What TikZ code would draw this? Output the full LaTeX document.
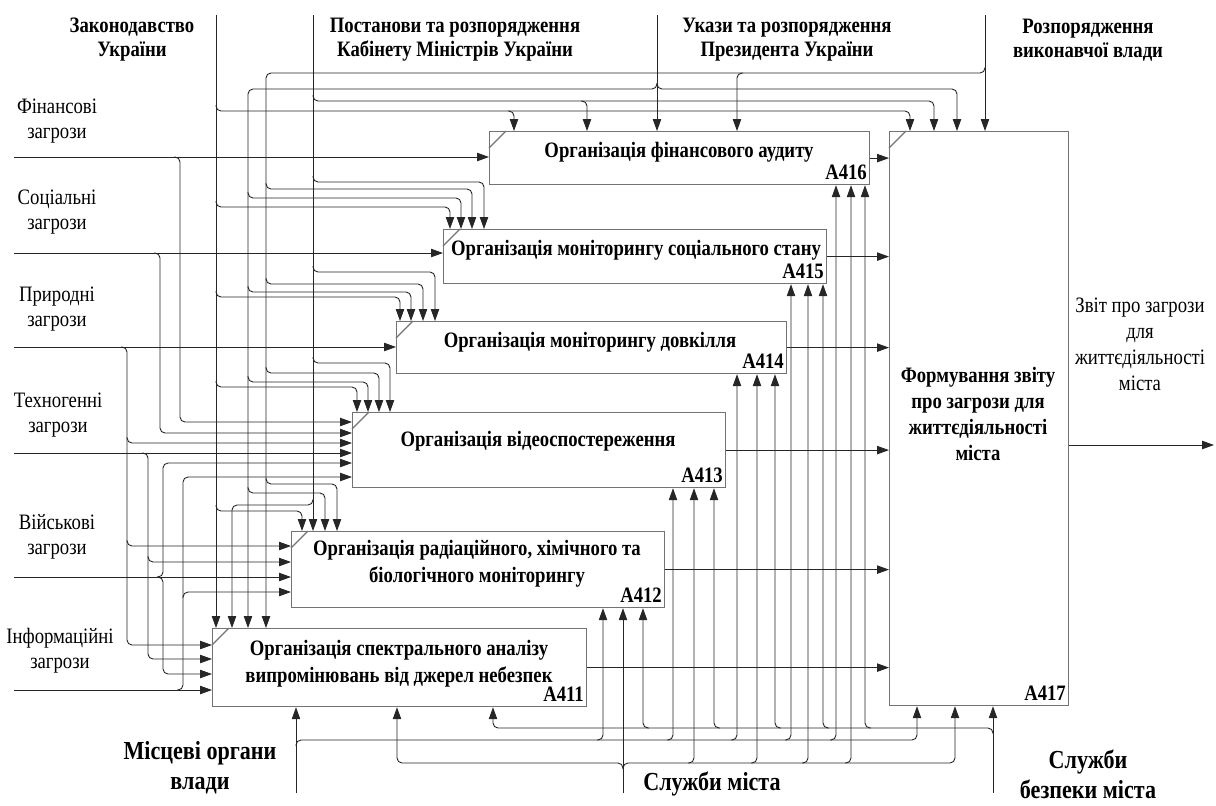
\documentclass[tikz,border=0pt]{standalone}
\usepackage{fontspec}
\setmainfont{Liberation Serif}[FakeStretch=0.85]
\usetikzlibrary{arrows.meta, calc}

\begin{document}
\begin{tikzpicture}[
        x=0.5pt, y=-0.5pt,
        procbox/.style={rectangle, draw=black!55, line width=0.6pt, anchor=north west, inner sep=0pt},
        proctext/.style={font=\fontsize{11}{13.5}\selectfont\bfseries, align=center},
        numlabel/.style={anchor=south east, inner xsep=1.5pt, inner ysep=2.5pt, font=\fontsize{11}{13}\selectfont\bfseries},
        ctrltext/.style={font=\fontsize{11}{12}\selectfont\bfseries, align=center},
        inptext/.style={font=\fontsize{11}{12.5}\selectfont, align=center},
        mechtext/.style={font=\fontsize{13}{15}\selectfont\bfseries, align=center},
        arr/.style={-{Triangle[length=6pt, width=4.2pt]}, line width=0.45pt, black!85, rounded corners=2.5pt},
        cornertick/.style={draw=black!55, line width=0.6pt},
    ]
        \useasboundingbox (0,0) rectangle (1216,805);

        % Function boxes A411..A417
        \node[procbox, minimum width=190pt, minimum height=26.5pt] (a416) at (489,131) {};
        \node[procbox, minimum width=191.5pt, minimum height=27pt] (a415) at (443,229) {};
        \node[procbox, minimum width=195pt, minimum height=26pt] (a414) at (396,321) {};
        \node[procbox, minimum width=186.5pt, minimum height=37.5pt] (a413) at (352,412) {};
        \node[procbox, minimum width=186.5pt, minimum height=38pt] (a412) at (291,531) {};
        \node[procbox, minimum width=187pt, minimum height=39pt] (a411) at (212,628) {};
        \node[procbox, minimum width=89.5pt, minimum height=287pt] (a417) at (889,131) {};

        \node[proctext] (t416) at (679,152) {Організація фінансового аудиту};
        \node[proctext] (t415) at (636,250) {Організація моніторингу соціального стану};
        \node[proctext] (t414) at (590,342) {Організація моніторингу довкілля};
        \node[proctext] (t413) at (538,441) {Організація відеоспостереження};
        \node[proctext] (t412) at (477,564) {Організація радіаційного, хімічного та\\біологічного моніторингу};
        \node[proctext] (t411) at (399,664) {Організація спектрального аналізу\\випромінювань від джерел небезпек};
        \node[proctext, font=\fontsize{11}{13}\selectfont\bfseries] (t417) at (978,414) {Формування звіту\\про загрози для\\життєдіяльності\\міста};

        \node[numlabel] (n416) at (a416.south east) {A416};
        \node[numlabel] (n415) at (a415.south east) {A415};
        \node[numlabel] (n414) at (a414.south east) {A414};
        \node[numlabel] (n413) at (a413.south east) {A413};
        \node[numlabel] (n412) at (a412.south east) {A412};
        \node[numlabel] (n411) at (a411.south east) {A411};
        \node[numlabel] (n417) at (a417.south east) {A417};

        % Corner ticks
        \draw[cornertick] ($(a416.north west)+(0,17)$) -- ($(a416.north west)+(17,0)$);
        \draw[cornertick] ($(a415.north west)+(0,17)$) -- ($(a415.north west)+(17,0)$);
        \draw[cornertick] ($(a414.north west)+(0,17)$) -- ($(a414.north west)+(17,0)$);
        \draw[cornertick] ($(a413.north west)+(0,17)$) -- ($(a413.north west)+(17,0)$);
        \draw[cornertick] ($(a412.north west)+(0,17)$) -- ($(a412.north west)+(17,0)$);
        \draw[cornertick] ($(a411.north west)+(0,17)$) -- ($(a411.north west)+(17,0)$);
        \draw[cornertick] ($(a417.north west)+(0,17)$) -- ($(a417.north west)+(17,0)$);

        % Control labels
        \node[ctrltext] (lzak) at (132,40) {Законодавство\\України};
        \node[ctrltext] (lpost) at (455,40) {Постанови та розпорядження\\Кабінету Міністрів України};
        \node[ctrltext] (lukaz) at (787,40) {Укази та розпорядження\\Президента України};
        \node[ctrltext] (lrozp) at (1088,40) {Розпорядження\\виконавчої влади};

        \coordinate (zak) at (216,15);
        \coordinate (post) at (313,15);
        \coordinate (ukaz) at (657,15);
        \coordinate (rozp) at (985,15);

        % Controls: Законодавство
        \draw[arr] (zak) -- (zak |- a411.north);
        \draw[arr] (zak |- 0,105) |- (910,111) -- (910,0 |- a417.north);
        \draw[arr] (508,111) -| (514,0 |- a416.north);
        \draw[arr] (zak |- 0,201) |- (450,207) -- (450,0 |- a415.north);
        \draw[arr] (zak |- 0,291) |- (400,297) -- (400,0 |- a414.north);
        \draw[arr] (zak |- 0,381) |- (357,387) -- (357,0 |- a413.north);
        \draw[arr] (zak |- 0,505) |- (302,511) -- (302,0 |- a412.north);

        % Controls: Постанови
        \draw[arr] (post) -- (post |- a412.north);
        \draw[arr] (post |- 0,95) |- (934,101) -- (934,0 |- a417.north);
        \draw[arr] (581,101) -| (587,0 |- a416.north);
        \draw[arr] (post |- 0,176) |- (484,182) -- (484,0 |- a415.north);
        \draw[arr] (post |- 0,266) |- (435,272) -- (435,0 |- a414.north);
        \draw[arr] (post |- 0,357) |- (390,363) -- (390,0 |- a413.north);
        \draw[arr] (post |- 0,499) |- (232,505) -- (232,0 |- a411.north);

        % Controls: Укази
        \draw[arr] (ukaz) -- (ukaz |- a416.north);
        \draw[arr] (ukaz |- 0,83) |- (957,89) -- (957,0 |- a417.north);
        \draw[arr] (ukaz |- 0,83) |- (248,89) -- (248,0 |- a411.north);
        \draw[arr] (248,192) |- (461,198) -- (461,0 |- a415.north);
        \draw[arr] (248,286) |- (411,292) -- (411,0 |- a414.north);
        \draw[arr] (248,376) |- (368,382) -- (368,0 |- a413.north);
        \draw[arr] (248,487) |- (325,493) -- (325,0 |- a412.north);

        % Controls: Розпорядження
        \draw[arr] (rozp) -- (rozp |- a417.north);
        \draw[arr] (rozp |- 0,67) |- (266,73) -- (266,0 |- a411.north);
        \draw[arr] (743,73) -| (737,0 |- a416.north);
        \draw[arr] (266,183) |- (472,189) -- (472,0 |- a415.north);
        \draw[arr] (266,278) |- (423,284) -- (423,0 |- a414.north);
        \draw[arr] (266,367) |- (379,373) -- (379,0 |- a413.north);
        \draw[arr] (266,478) |- (337,484) -- (337,0 |- a412.north);

        % Input labels
        \node[inptext] (lfin) at (57,121) {Фінансові\\загрози};
        \node[inptext] (lsoc) at (57,212) {Соціальні\\загрози};
        \node[inptext] (lprir) at (57,309) {Природні\\загрози};
        \node[inptext] (ltech) at (58,415) {Техногенні\\загрози};
        \node[inptext] (lviy) at (57,537) {Військові\\загрози};
        \node[inptext] (linf) at (60,651) {Інформаційні\\загрози};

        \coordinate (fin) at (14,157);
        \coordinate (soc) at (14,253);
        \coordinate (prir) at (14,347);
        \coordinate (tech) at (14,453);
        \coordinate (viy) at (14,577);
        \coordinate (inf) at (14,690);

        % Inputs
        \draw[arr] (fin) -- (fin -| a416.west);
        \draw[arr] (174,157) -| (180,422) -- (a413.west |- 0,422);
        \draw[arr] (soc) -- (soc -| a415.west);
        \draw[arr] (154,253) -| (160,433) -- (a413.west |- 0,433);
        \draw[arr] (prir) -- (prir -| a414.west);
        \draw[arr] (121,347) -| (127,645) -- (a411.west |- 0,645);
        \draw[arr] (127,437) |- (a413.west |- 0,443);
        \draw[arr] (127,540) |- (a412.west |- 0,546);
        \draw[arr] (tech) -- (tech -| a413.west);
        \draw[arr] (142,453) -| (148,659) -- (a411.west |- 0,659);
        \draw[arr] (148,556) |- (a412.west |- 0,562);
        \draw[arr] (viy) -- (viy -| a412.west);
        \draw[arr] (157,577) -| (163,463) -- (a413.west |- 0,463);
        \draw[arr] (157,577) -| (163,674) -- (a411.west |- 0,674);
        \draw[arr] (inf) -- (inf -| a411.west);
        \draw[arr] (177,690) -| (183,477) -- (a413.west |- 0,477);
        \draw[arr] (183,598) |- (a412.west |- 0,592);

        % Outputs
        \draw[arr] (a416.east) -- (a416.east -| a417.west);
        \draw[arr] (a415.east) -- (a415.east -| a417.west);
        \draw[arr] (a414.east) -- (a414.east -| a417.west);
        \draw[arr] (a413.east) -- (a413.east -| a417.west);
        \draw[arr] (a412.east) -- (a412.east -| a417.west);
        \draw[arr] (a411.east) -- (a411.east -| a417.west);

        \coordinate (zvit) at (1214,445);
        \draw[arr] (zvit -| a417.east) -- (zvit);
        \node[inptext, font=\fontsize{11}{13}\selectfont] (lzvit) at (1140,344) {Звіт про загрози\\для\\життєдіяльності\\міста};

        % Mechanism labels
        \node[mechtext] (lmisc) at (200,768) {Місцеві органи\\влади};
        \node[mechtext] (lsluzh) at (712,784) {Служби міста};
        \node[mechtext] (lbezp) at (1088,774) {Служби\\безпеки міста};

        \coordinate (misc) at (296,793);
        \coordinate (sluzh) at (623,793);
        \coordinate (bezp) at (993,793);

        % Mechanisms: Місцеві органи влади
        \draw[arr] (misc) -- (misc |- a411.south);
        \draw[arr] (misc |- 0,746) |- (917,740) -- (917,0 |- a417.south);
        \draw[arr] (597,740) -| (603,0 |- a412.south);
        \draw[arr] (667,740) -| (673,0 |- a413.south);
        \draw[arr] (731,740) -| (737,0 |- a414.south);
        \draw[arr] (785,740) -| (791,0 |- a415.south);
        \draw[arr] (830,740) -| (836,0 |- a416.south);

        % Mechanisms: Служби міста
        \draw[arr] (sluzh) -- (sluzh |- a412.south);
        \draw[arr] (sluzh |- 0,769) |- (955,763) -- (955,0 |- a417.south);
        \draw[arr] (sluzh |- 0,769) |- (397,763) -- (397,0 |- a411.south);
        \draw[arr] (688,763) -| (694,0 |- a413.south);
        \draw[arr] (751,763) -| (757,0 |- a414.south);
        \draw[arr] (802,763) -| (808,0 |- a415.south);
        \draw[arr] (845,763) -| (851,0 |- a416.south);

        % Mechanisms: Служби безпеки міста
        \draw[arr] (bezp) -- (bezp |- a417.south);
        \draw[arr] (bezp |- 0,734) |- (493,728) -- (493,0 |- a411.south);
        \draw[arr] (649,728) -| (643,0 |- a412.south);
        \draw[arr] (720,728) -| (714,0 |- a413.south);
        \draw[arr] (781,728) -| (775,0 |- a414.south);
        \draw[arr] (829,728) -| (823,0 |- a415.south);
        \draw[arr] (871,728) -| (865,0 |- a416.south);
    \end{tikzpicture}
\end{document}
